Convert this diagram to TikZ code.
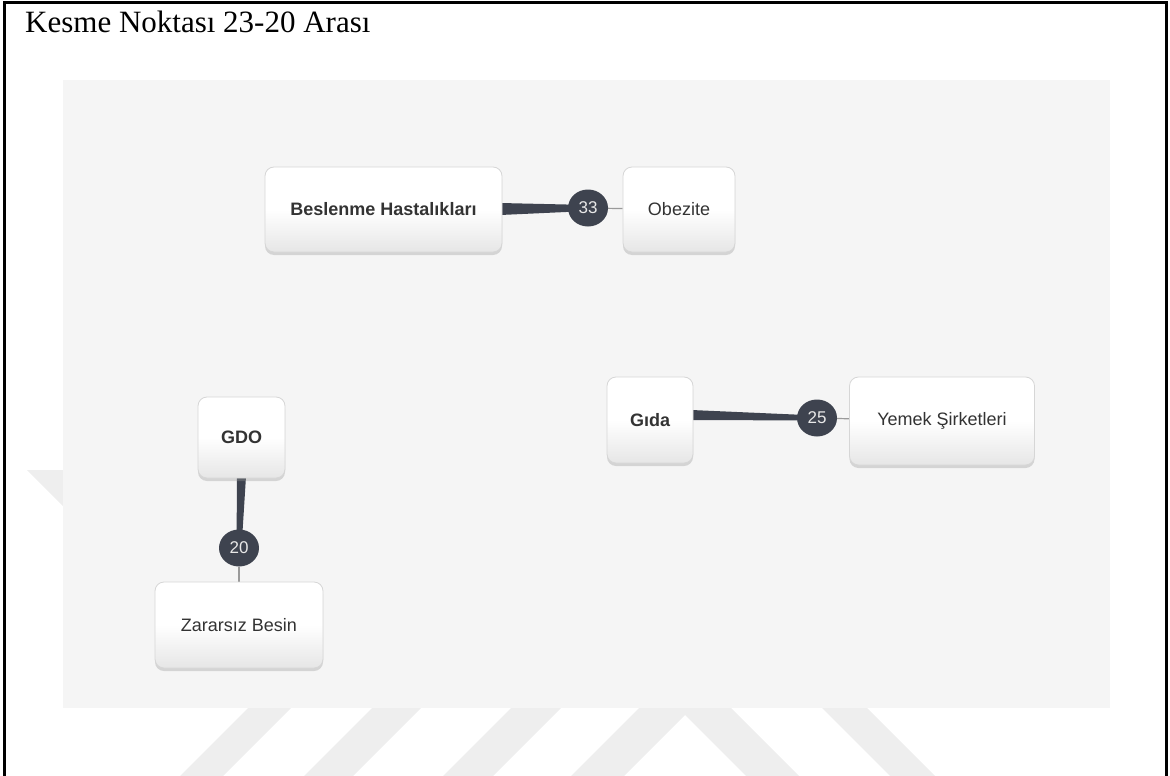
\documentclass[tikz,border=0pt]{standalone}
\usepackage{fontspec}
\setmainfont{Liberation Serif}
\newfontfamily\uifont{Liberation Sans}
\usetikzlibrary{calc,shapes.geometric,shadows}
\definecolor{panelbg}{HTML}{F5F5F5}
\definecolor{wmark}{HTML}{EEEEEE}
\definecolor{badgecol}{HTML}{3E434F}
\definecolor{nodetext}{HTML}{333333}
\definecolor{nodeborder}{HTML}{D6D6D6}
\definecolor{nodebottom}{HTML}{E6E6E6}
\definecolor{thinedge}{HTML}{9A9A9A}
\definecolor{badgetext}{HTML}{E8E8E8}
\pgfdeclarelayer{bg}
\pgfdeclarelayer{edges}
\pgfsetlayers{bg,edges,main}
\tikzset{
  card/.style={rectangle, rounded corners=9pt, draw=nodeborder, line width=0.8pt,
    top color=white, bottom color=nodebottom, middle color=white,
    drop shadow={shadow xshift=0pt, shadow yshift=-3pt, opacity=0.35, fill=black!40},
    font=\uifont\fontsize{18}{22}\selectfont, text=nodetext, inner sep=0pt, align=center},
  cardbold/.style={card, font=\uifont\bfseries\fontsize{18}{22}\selectfont},
  badge/.style={ellipse, fill=badgecol, minimum width=40pt, minimum height=37pt,
    inner sep=0pt, text=badgetext, font=\uifont\fontsize{17}{20}\selectfont},
  heavyedge/.style={fill=badgecol},
  lightedge/.style={draw=thinedge, line width=1.2pt},
  wmarkband/.style={fill=wmark},
}
\begin{document}
\begin{tikzpicture}[x=1pt,y=-1pt]
\useasboundingbox (0,0) rectangle (1170,776);
\clip (0,0) rectangle (1170,776);

\begin{pgfonlayer}{bg}
  % faint watermark
  \fill[wmarkband] (27,470) -- (77,470) -- (250,643) -- (200,643) -- cycle;
  \fill[wmarkband] (306,650) -- (349,650) -- (199,800) -- (156,800) -- cycle;
  \fill[wmarkband] (430,650) -- (479,650) -- (329,800) -- (280,800) -- cycle;
  \fill[wmarkband] (569,650) -- (619,650) -- (469,800) -- (419,800) -- cycle;
  \fill[wmarkband] (685,662) -- (823,800) -- (770,800) -- (685,715) -- (600,800) -- (547,800) -- cycle;
  \fill[wmarkband] (764,650) -- (809,650) -- (959,800) -- (914,800) -- cycle;
  % panel
  \fill[panelbg] (63,80) rectangle (1110,708);
  % frame
  \draw[line width=3pt] (4.5,800) -- (4.5,2.5) -- (1166.5,2.5) -- (1166.5,800);
\end{pgfonlayer}

\node[anchor=base west, font=\fontsize{31}{36}\selectfont, inner sep=0pt] (title) at (25,33) {Kesme Noktası 23-20 Arası};

\node[cardbold, minimum width=237pt, minimum height=85pt] (bes) at (383.5,209.5) {Beslenme Hastalıkları};
\node[card, minimum width=112pt, minimum height=85pt] (obe) at (679,209.5) {Obezite};
\node[badge] (b33) at (588,208) {33};

\node[cardbold, minimum width=86pt, minimum height=86pt] (gida) at (650,420) {Gıda};
\node[card, minimum width=185pt, minimum height=88pt] (yem) at (942,421) {Yemek Şirketleri};
\node[badge] (b25) at (817,418) {25};

\node[cardbold, minimum width=87pt, minimum height=81pt] (gdo) at (241.5,437.5) {GDO};
\node[card, minimum width=168pt, minimum height=86pt] (zar) at (239,625) {Zararsız Besin};
\node[badge] (b20) at (239,548) {20};

\begin{pgfonlayer}{edges}
  \fill[heavyedge] ($(bes.east)+(-2,-6.5)$) -- ($(bes.east)+(-2,5.5)$) -- ($(b33.center)+(0,3)$) -- ($(b33.center)+(0,-3)$) -- cycle;
  \draw[lightedge] (b33) -- (obe);
  \fill[heavyedge] ($(gida.east)+(-2,-10)$) -- ($(gida.east)+(-2,0)$) -- ($(b25.center)+(0,2.5)$) -- ($(b25.center)+(0,-2.5)$) -- cycle;
  \draw[lightedge] (b25) -- (yem);
  \fill[heavyedge] ($(gdo.south)+(-4.5,-2)$) -- ($(gdo.south)+(4.5,-2)$) -- ($(b20.center)+(2.5,0)$) -- ($(b20.center)+(-2.5,0)$) -- cycle;
  \draw[lightedge] (b20) -- (zar);
\end{pgfonlayer}
\end{tikzpicture}
\end{document}
